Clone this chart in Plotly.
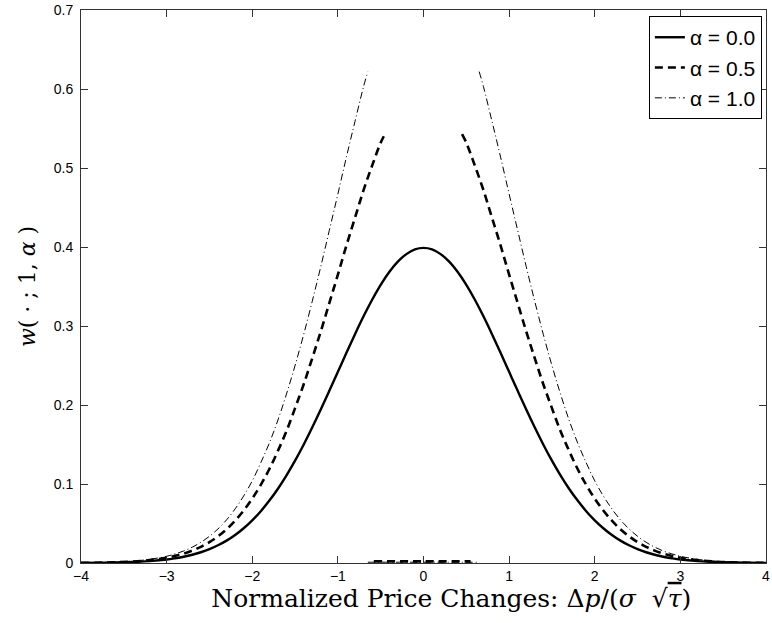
import plotly.graph_objects as go

# ---- data ----
x_a0 = [-4.0, -3.8, -3.6, -3.4, -3.2, -3.0, -2.9, -2.8, -2.7, -2.6, -2.5, -2.4, -2.3, -2.2, -2.1, -2.0,
        -1.9, -1.8, -1.7, -1.6, -1.5, -1.4, -1.3, -1.2, -1.1, -1.0, -0.9, -0.8, -0.7, -0.6, -0.5, -0.4,
        -0.3, -0.2, -0.1, 0.0, 0.1, 0.2, 0.3, 0.4, 0.5, 0.6, 0.7, 0.8, 0.9, 1.0, 1.1, 1.2, 1.3, 1.4, 1.5,
        1.6, 1.7, 1.8, 1.9, 2.0, 2.1, 2.2, 2.3, 2.4, 2.5, 2.6, 2.7, 2.8, 2.9, 3.0, 3.2, 3.4, 3.6, 3.8, 4.0]
y_a0 = [0.0001, 0.0003, 0.0006, 0.0012, 0.0024, 0.0044, 0.0060, 0.0079, 0.0104, 0.0136, 0.0175, 0.0224,
        0.0283, 0.0355, 0.0440, 0.0540, 0.0656, 0.0790, 0.0940, 0.1109, 0.1295, 0.1497, 0.1714, 0.1942,
        0.2179, 0.2420, 0.2661, 0.2897, 0.3123, 0.3332, 0.3521, 0.3683, 0.3814, 0.3910, 0.3970, 0.3989,
        0.3970, 0.3910, 0.3814, 0.3683, 0.3521, 0.3332, 0.3123, 0.2897, 0.2661, 0.2420, 0.2179, 0.1942,
        0.1714, 0.1497, 0.1295, 0.1109, 0.0940, 0.0790, 0.0656, 0.0540, 0.0440, 0.0355, 0.0283, 0.0224,
        0.0175, 0.0136, 0.0104, 0.0079, 0.0060, 0.0044, 0.0024, 0.0012, 0.0006, 0.0003, 0.0001]

# alpha = 0.5 : left tail, inner segment near zero, right tail
x_a05_left = [-4.0, -3.8, -3.6, -3.4, -3.2, -3.0, -2.9, -2.8, -2.7, -2.6, -2.5, -2.4, -2.3, -2.2, -2.1,
              -2.0, -1.9, -1.8, -1.7, -1.6, -1.5, -1.4, -1.3, -1.2, -1.1, -1.0, -0.9, -0.8, -0.7, -0.6,
              -0.5, -0.45]
y_a05_left = [0.0002, 0.0004, 0.0009, 0.0018, 0.0036, 0.0066, 0.0091, 0.0119, 0.0157, 0.0205, 0.0264,
              0.0338, 0.0427, 0.0536, 0.0664, 0.0815, 0.0990, 0.1190, 0.1420, 0.1670, 0.1960, 0.2260,
              0.2590, 0.2930, 0.3290, 0.3650, 0.4020, 0.4370, 0.4720, 0.5030, 0.5320, 0.5430]
x_a05_mid = [-0.58, 0.0, 0.55]
y_a05_mid = [0.002, 0.002, 0.002]
x_a05_right = [0.45, 0.5, 0.6, 0.7, 0.8, 0.9, 1.0, 1.1, 1.2, 1.3, 1.4, 1.5, 1.6, 1.7, 1.8, 1.9, 2.0,
               2.1, 2.2, 2.3, 2.4, 2.5, 2.6, 2.7, 2.8, 2.9, 3.0, 3.2, 3.4, 3.6, 3.8, 4.0]
y_a05_right = [0.5430, 0.5320, 0.5030, 0.4720, 0.4370, 0.4020, 0.3650, 0.3290, 0.2930, 0.2590, 0.2260,
               0.1960, 0.1670, 0.1420, 0.1190, 0.0990, 0.0815, 0.0664, 0.0536, 0.0427, 0.0338, 0.0264,
               0.0205, 0.0157, 0.0119, 0.0091, 0.0066, 0.0036, 0.0018, 0.0009, 0.0004, 0.0002]

# alpha = 1.0
x_a1_left = [-4.0, -3.8, -3.6, -3.4, -3.2, -3.0, -2.9, -2.8, -2.7, -2.6, -2.5, -2.4, -2.3, -2.2, -2.1,
             -2.0, -1.9, -1.8, -1.7, -1.6, -1.5, -1.4, -1.3, -1.2, -1.1, -1.0, -0.9, -0.8, -0.7, -0.65]
y_a1_left = [0.0002, 0.0006, 0.0012, 0.0023, 0.0046, 0.0085, 0.0116, 0.0152, 0.0201, 0.0262, 0.0338,
             0.0432, 0.0546, 0.0685, 0.0849, 0.1040, 0.1270, 0.1520, 0.1810, 0.2140, 0.2500, 0.2890,
             0.3310, 0.3750, 0.4210, 0.4670, 0.5140, 0.5590, 0.6030, 0.6220]
x_a1_mid = [-0.65, 0.0, 0.65]
y_a1_mid = [0.001, 0.001, 0.001]
x_a1_right = [0.65, 0.7, 0.8, 0.9, 1.0, 1.1, 1.2, 1.3, 1.4, 1.5, 1.6, 1.7, 1.8, 1.9, 2.0, 2.1, 2.2,
              2.3, 2.4, 2.5, 2.6, 2.7, 2.8, 2.9, 3.0, 3.2, 3.4, 3.6, 3.8, 4.0]
y_a1_right = [0.6220, 0.6030, 0.5590, 0.5140, 0.4670, 0.4210, 0.3750, 0.3310, 0.2890, 0.2500, 0.2140,
              0.1810, 0.1520, 0.1270, 0.1040, 0.0849, 0.0685, 0.0546, 0.0432, 0.0338, 0.0262, 0.0201,
              0.0152, 0.0116, 0.0085, 0.0046, 0.0023, 0.0012, 0.0006, 0.0002]

names = ["\u03b1 = 0.0", "\u03b1 = 0.5", "\u03b1 = 1.0"]
x_ticks = [-4, -3, -2, -1, 0, 1, 2, 3, 4]
x_tick_text = ["\u22124", "\u22123", "\u22122", "\u22121", "0", "1", "2", "3", "4"]
y_ticks = [0, 0.1, 0.2, 0.3, 0.4, 0.5, 0.6, 0.7]
y_tick_text = ["0", "0.1", "0.2", "0.3", "0.4", "0.5", "0.6", "0.7"]


def join(*segs):
    xs, ys = [], []
    for i, (sx, sy) in enumerate(segs):
        if i:
            xs.append(None)
            ys.append(None)
        xs += list(sx)
        ys += list(sy)
    return xs, ys


fig = go.Figure()
fig.add_trace(go.Scatter(x=x_a0, y=y_a0, mode="lines", name=names[0], legendgroup="g0",
                         line=dict(color="black", width=2.4, shape="spline")))
xs, ys = join((x_a05_left, y_a05_left), (x_a05_mid, y_a05_mid), (x_a05_right, y_a05_right))
fig.add_trace(go.Scatter(x=xs, y=ys, mode="lines", name=names[1], legendgroup="g1",
                         line=dict(color="black", width=2.6, dash="8px,5px", shape="spline")))
xs, ys = join((x_a1_left, y_a1_left), (x_a1_mid, y_a1_mid), (x_a1_right, y_a1_right))
fig.add_trace(go.Scatter(x=xs, y=ys, mode="lines", name=names[2], legendgroup="g2",
                         line=dict(color="black", width=1, dash="7px,3px,1px,3px", shape="spline")))

axis_common = dict(showline=True, linecolor="#333333", linewidth=1, mirror="ticks", ticks="inside",
                   ticklen=7, tickcolor="#333333", tickwidth=1, showgrid=False, zeroline=False,
                   tickfont=dict(family="Liberation Sans, Arial, sans-serif", size=14, color="black"))

fig.update_layout(
    width=772, height=623,
    margin=dict(l=81, r=2, t=10, b=60),
    paper_bgcolor="white", plot_bgcolor="white",
    showlegend=True,
    legend=dict(x=0.994, y=0.989, xanchor="right", yanchor="top",
                bgcolor="white", bordercolor="black", borderwidth=1,
                font=dict(family="Liberation Sans, Arial, sans-serif", size=21, color="black"),
                traceorder="grouped", tracegroupgap=0, itemwidth=30),
    xaxis=dict(range=[-4, 4], tickvals=x_ticks, ticktext=x_tick_text, ticklabeloverflow="allow",
               title=dict(text="&nbsp;&nbsp;&nbsp;&nbsp;&nbsp;&nbsp;&nbsp;Normalized Price Changes: \u0394<i>p</i>/(<i>\u03c3</i>  \u221a<span style='text-decoration:overline'><i>\u03c4</i></span>)",
                          font=dict(family="DejaVu Serif, serif", size=25, color="black"),
                          standoff=5),
               **axis_common),
    yaxis=dict(range=[0, 0.7], tickvals=y_ticks, ticktext=y_tick_text,
               ticklabelstandoff=4,
               title=dict(text="<i>w</i>( \u00b7 ; 1, <i>\u03b1</i> )",
                          font=dict(family="DejaVu Serif, serif", size=22, color="black"),
                          standoff=12),
               **axis_common),
)

fig.write_html("out.html")
